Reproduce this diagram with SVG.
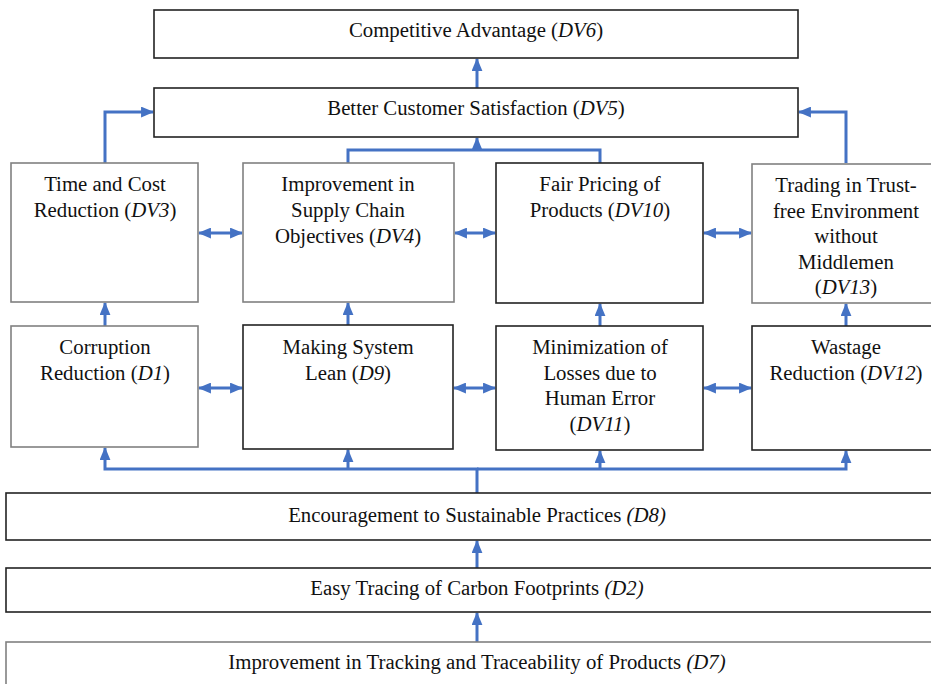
<svg xmlns="http://www.w3.org/2000/svg" width="931" height="684" viewBox="0 0 931 684">
<style>
.bx{fill:#fff;stroke:#222;stroke-width:1.6}
.bg{fill:#fff;stroke:#808080;stroke-width:1.6}
text{font-family:"Liberation Serif","Times New Roman",serif;font-size:20.8px;fill:#111;text-anchor:middle}
.i{font-style:italic}
.c{fill:none;stroke:#4472C4;stroke-width:3}
</style>
<defs>
<marker id="ah" viewBox="0 0 12 10" refX="11" refY="5" markerWidth="13" markerHeight="11" markerUnits="userSpaceOnUse" orient="auto-start-reverse">
<path d="M0,0 L12,5 L0,10 z" fill="#4472C4"/>
</marker>
</defs>
<g id="connectors">
<path class="c" d="M477,88 V59" marker-end="url(#ah)"/>
<path class="c" d="M105,163 V112 H153" marker-end="url(#ah)"/>
<path class="c" d="M348,163 V150 H600 V163"/>
<path class="c" d="M477,150 V138" marker-end="url(#ah)"/>
<path class="c" d="M846,163 V112 H799" marker-end="url(#ah)"/>
<path class="c" d="M199,233 H242" marker-start="url(#ah)" marker-end="url(#ah)"/>
<path class="c" d="M455,233 H495" marker-start="url(#ah)" marker-end="url(#ah)"/>
<path class="c" d="M704,233 H751" marker-start="url(#ah)" marker-end="url(#ah)"/>
<path class="c" d="M199,388 H242" marker-start="url(#ah)" marker-end="url(#ah)"/>
<path class="c" d="M454,388 H495" marker-start="url(#ah)" marker-end="url(#ah)"/>
<path class="c" d="M704,388 H751" marker-start="url(#ah)" marker-end="url(#ah)"/>
<path class="c" d="M105,326 V303" marker-end="url(#ah)"/>
<path class="c" d="M348,325 V303" marker-end="url(#ah)"/>
<path class="c" d="M600,326 V304" marker-end="url(#ah)"/>
<path class="c" d="M846,326 V304" marker-end="url(#ah)"/>
<path class="c" d="M477,493 V469 H105 V448" marker-end="url(#ah)"/>
<path class="c" d="M477,469 H846 V451" marker-end="url(#ah)"/>
<path class="c" d="M348,469 V450" marker-end="url(#ah)"/>
<path class="c" d="M600,469 V451" marker-end="url(#ah)"/>
<path class="c" d="M477,568 V541" marker-end="url(#ah)"/>
<path class="c" d="M477,642 V613" marker-end="url(#ah)"/>
</g>
<g id="DV6"><rect class="bx" x="154" y="10" width="644" height="48"/><text x="476" y="37">Competitive Advantage (<tspan class="i">DV6</tspan>)</text></g>
<g id="DV5"><rect class="bx" x="154" y="88" width="644" height="49"/><text x="476" y="115">Better Customer Satisfaction (<tspan class="i">DV5</tspan>)</text></g>
<g id="DV3"><rect class="bg" x="11" y="163" width="187" height="139"/><text x="105" y="191">Time and Cost</text><text x="105" y="217">Reduction (<tspan class="i">DV3</tspan>)</text></g>
<g id="DV4"><rect class="bg" x="243" y="163" width="211" height="139"/><text x="348" y="191">Improvement in</text><text x="348" y="217">Supply Chain</text><text x="348" y="243">Objectives (<tspan class="i">DV4</tspan>)</text></g>
<g id="DV10"><rect class="bx" x="496" y="163" width="207" height="140"/><text x="600" y="191">Fair Pricing of</text><text x="600" y="217">Products (<tspan class="i">DV10</tspan>)</text></g>
<g id="DV13"><rect class="bg" x="752" y="164" width="190" height="139"/><text x="846" y="192">Trading in Trust-</text><text x="846" y="218">free Environment</text><text x="846" y="243">without</text><text x="846" y="269">Middlemen</text><text x="846" y="294">(<tspan class="i">DV13</tspan>)</text></g>
<g id="D1"><rect class="bg" x="11" y="326" width="187" height="121"/><text x="105" y="354">Corruption</text><text x="105" y="380">Reduction (<tspan class="i">D1</tspan>)</text></g>
<g id="D9"><rect class="bx" x="243" y="325" width="210" height="124"/><text x="348" y="354">Making System</text><text x="348" y="380">Lean (<tspan class="i">D9</tspan>)</text></g>
<g id="DV11"><rect class="bx" x="496" y="326" width="207" height="124"/><text x="600" y="354">Minimization of</text><text x="600" y="380">Losses due to</text><text x="600" y="405">Human Error</text><text x="600" y="431">(<tspan class="i">DV11</tspan>)</text></g>
<g id="DV12"><rect class="bx" x="752" y="326" width="190" height="124"/><text x="846" y="354">Wastage</text><text x="846" y="380">Reduction (<tspan class="i">DV12</tspan>)</text></g>
<g id="D8"><rect class="bx" x="6" y="493" width="945" height="47"/><text x="477" y="522">Encouragement to Sustainable Practices <tspan class="i">(D8)</tspan></text></g>
<g id="D2"><rect class="bx" x="6" y="568" width="945" height="44"/><text x="477" y="595">Easy Tracing of Carbon Footprints <tspan class="i">(D2)</tspan></text></g>
<g id="D7"><rect class="bg" x="6" y="642" width="945" height="60"/><text x="477" y="669">Improvement in Tracking and Traceability of Products <tspan class="i">(D7)</tspan></text></g>
</svg>
